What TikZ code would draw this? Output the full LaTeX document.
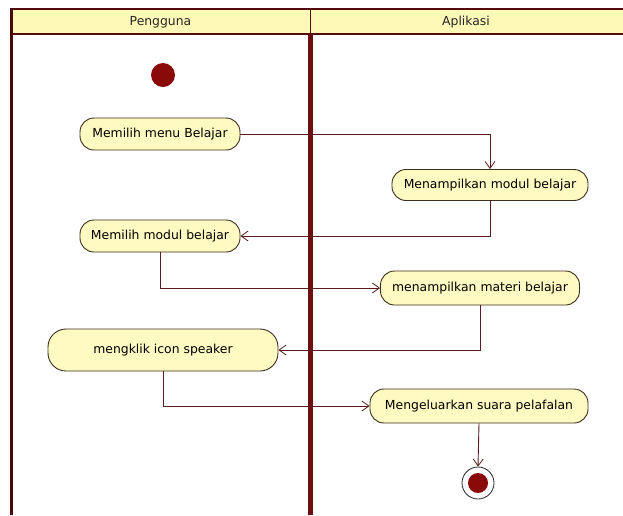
\documentclass[tikz,border=0pt]{standalone}
\usepackage{fontspec}
\setmainfont{DejaVu Sans}
\usetikzlibrary{arrows.meta}
\definecolor{lanered}{HTML}{6A0E0E}
\definecolor{hdrfill}{HTML}{FFF9B8}
\definecolor{actfill}{HTML}{FFFAC2}
\definecolor{actline}{HTML}{3E2C1C}
\definecolor{flowline}{HTML}{5A1C1C}
\definecolor{dotred}{HTML}{8A0A0A}
\begin{document}
\begin{tikzpicture}[x=1pt,y=-1pt,
  font=\fontsize{12.4}{14}\selectfont,
  act/.style={draw=actline, fill=actfill, line width=0.9pt, rounded corners=14pt,
    inner sep=0pt, minimum height=32pt},
  flow/.style={draw=flowline, line width=0.9pt, -{Straight Barb[length=7pt,width=10pt,line width=0.8pt]}},
  hdr/.style={inner sep=0pt, text=black!85}
]
\useasboundingbox (0,0) rectangle (623,515);
\fill[white] (0,0) rectangle (623,515);
% header band
\fill[hdrfill] (11,9) rectangle (623,34);
\draw[lanered!80!black, line width=2pt] (11,9) -- (623,9);
\draw[lanered!80!black, line width=2pt] (11,34) -- (623,34);
\draw[lanered!80!black, line width=1.5pt] (310.5,9) -- (310.5,34);
% lane lines
\draw[lanered!70!black, line width=3pt] (11,8) -- (11,515);
\draw[lanered, line width=5pt] (310.5,34) -- (310.5,515);
\node[hdr] (h1) at (160.5,22) {Pengguna};
\node[hdr] (h2) at (466,22) {Aplikasi};
% start
\node[circle, fill=dotred, minimum size=24pt, inner sep=0pt] (start) at (163,75) {};
% activities
\node[act, minimum width=160pt] (n2) at (160,134) {Memilih menu Belajar};
\node[act, minimum width=196pt, minimum height=31pt] (n3) at (490,185) {Menampilkan modul belajar};
\node[act, minimum width=160pt] (n4) at (160,236) {Memilih modul belajar};
\node[act, minimum width=199pt, minimum height=34pt] (n5) at (480,288) {menampilkan materi belajar};
\node[act, minimum width=230pt, minimum height=42pt, rounded corners=18pt] (n6) at (163,350) {mengklik icon speaker};
\node[act, minimum width=218pt, minimum height=34pt] (n7) at (479,406) {Mengeluarkan suara pelafalan};
% end
\node[circle, draw=black!85, fill=white, line width=0.8pt, minimum size=32pt, inner sep=0pt] (end) at (478,483) {};
\node[circle, fill=dotred, minimum size=20pt, inner sep=0pt] (endin) at (end.center) {};
% flows
\draw[flow] (n2.east) -| (n3.north);
\draw[flow] (n3.south) |- (n4.east);
\draw[flow] (n4.south) |- (n5.west);
\draw[flow] (n5.south) |- (n6.east);
\draw[flow] (n6.south) |- (n7.west);
\draw[flow] (n7.south) -- (end.north);
\end{tikzpicture}
\end{document}
